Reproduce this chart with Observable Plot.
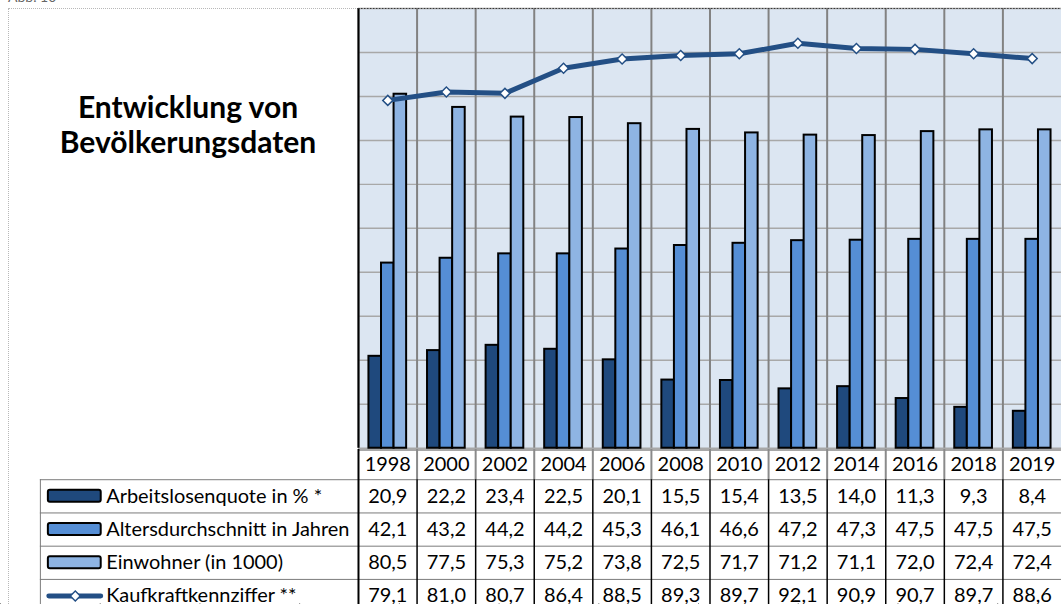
<!DOCTYPE html>
<html>
<head>
<meta charset="utf-8">
<script src="https://cdn.jsdelivr.net/npm/d3@7"></script>
<script src="https://cdn.jsdelivr.net/npm/@observablehq/plot@0.6"></script>
<style>
  html, body { margin: 0; padding: 0; background: #fff; overflow: hidden; }
  #wrap { position: relative; width: 1061px; height: 604px; overflow: hidden; font-family: Lato, "Noto Sans", sans-serif; }
  #outer { position: absolute; left: 8px; top: 8px; width: 1100px; height: 700px; border-left: 1.5px dotted #b8b8b8; border-top: 1.5px dotted #b8b8b8; box-sizing: border-box; }
  #abb { position: absolute; left: 8px; top: -12px; font-size: 14px; color: #666; }
  #title { position: absolute; left: 40px; width: 296px; top: 89px; text-align: center; font-weight: bold; font-size: 30px; line-height: 35px; color: #000; }
  #chart { position: absolute; left: 0; top: 0; }
  #table { position: absolute; left: 0; top: 449px; }
  svg { font-family: Lato, "Noto Sans", sans-serif; }
</style>
</head>
<body>
<div id="wrap">
  <div id="abb">Abb. 10</div>
  <div id="outer"></div>
  <div id="title">Entwicklung von<br>Bevölkerungsdaten</div>
  <div id="chart"></div>
  <div id="table"></div>
</div>
<script>
// ---- data ----
const years = ["1998","2000","2002","2004","2006","2008","2010","2012","2014","2016","2018","2019"];
const arbeitslosenquote = [20.9, 22.2, 23.4, 22.5, 20.1, 15.5, 15.4, 13.5, 14.0, 11.3, 9.3, 8.4];
const altersdurchschnitt = [42.1, 43.2, 44.2, 44.2, 45.3, 46.1, 46.6, 47.2, 47.3, 47.5, 47.5, 47.5];
const einwohner = [80.5, 77.5, 75.3, 75.2, 73.8, 72.5, 71.7, 71.2, 71.1, 72.0, 72.4, 72.4];
const kaufkraft = [79.1, 81.0, 80.7, 86.4, 88.5, 89.3, 89.7, 92.1, 90.9, 90.7, 89.7, 88.6];
const seriesLabels = ["Arbeitslosenquote in % *", "Altersdurchschnitt in Jahren", "Einwohner (in 1000)", "Kaufkraftkennziffer **"];
const gridValues = [0, 10, 20, 30, 40, 50, 60, 70, 80, 90, 100];

// ---- styles ----
const barColors = ["#1f497d", "#558ed5", "#8eb4e3"];
const lineColor = "#234f85";
const bg = "#dce6f2";

const barSeries = [arbeitslosenquote, altersdurchschnitt, einwohner];
const barData = barSeries.map(vals => years.map((y, i) => ({year: y, value: vals[i]})));
const lineData = years.map((y, i) => ({year: y, value: kaufkraft[i]}));

const W = 1064;
const bandW = (W - 359) / years.length;
const barW = 12.6;
const inset = bandW / 2 - barW / 2;

const chart = Plot.plot({
  width: W, height: 450,
  marginLeft: 359, marginRight: 0, marginTop: 8, marginBottom: 1,
  x: {type: "band", domain: years, padding: 0, round: false, axis: null},
  y: {domain: [0, 100], axis: null},
  style: {background: "transparent", overflow: "visible"},
  marks: [
    Plot.frame({fill: bg, stroke: null}),
    Plot.ruleY(gridValues, {stroke: "#a8a8a8", strokeWidth: 1.5}),
    Plot.ruleX(years, {x: d => d, dx: -bandW / 2, stroke: "#828282", strokeWidth: 2}),
    ...barData.map((d, k) => Plot.barY(d, {
      x: "year", y: "value",
      fill: barColors[k], stroke: "#000", strokeWidth: 2,
      insetLeft: inset, insetRight: inset, dx: (k - 1) * barW
    })),
    Plot.line(lineData, {x: "year", y: "value", stroke: lineColor, strokeWidth: 5, strokeLinejoin: "round"}),
    Plot.dot(lineData, {x: "year", y: "value", symbol: "square", rotate: 45, r: 4, fill: "#fff", stroke: lineColor, strokeWidth: 1.5}),
    Plot.ruleX([0], {x: d => years[0], dx: -bandW / 2, stroke: "#000", strokeWidth: 2}),
    Plot.ruleY([100], {stroke: "#333", strokeWidth: 1, strokeDasharray: "1.5,1.5"})
  ]
});
document.getElementById("chart").append(chart);

// ---- table (uses the chart's x scale for column positions) ----
const xs = chart.scale("x");
const colStart = y => xs.apply(y);
const bw = xs.bandwidth;
const headerH = 30.3;
const rowH = 33.33;
const rowCenter = i => headerH + rowH * i + rowH / 2;
const fmt = v => v.toFixed(1).replace(".", ",");
const allSeries = [arbeitslosenquote, altersdurchschnitt, einwohner, kaufkraft];

const cellText = allSeries.flatMap((vals, i) => years.map((y, j) => ({x: colStart(y) + bw / 2, y: rowCenter(i), t: fmt(vals[j])})));
const headerText = years.map(y => ({x: colStart(y) + bw / 2, y: headerH / 2 + 0.5, t: y}));
const labelText = seriesLabels.map((t, i) => ({x: 106, y: rowCenter(i), t}));
const hLines = [0, 1, 2, 3].map(i => headerH + rowH * i);
const colEdges = years.slice(1).map(colStart);
const swatches = [0, 1, 2].map(i => ({x1: 48, x2: 101, y1: rowCenter(i) - 6, y2: rowCenter(i) + 6, fill: barColors[i]}));

const table = Plot.plot({
  width: W, height: 155, margin: 0,
  x: {type: "identity"}, y: {type: "identity"},
  style: {background: "transparent", overflow: "visible"},
  marks: [
    Plot.ruleY([0.5], {x1: 359, x2: W, stroke: "#8a8a8a", strokeWidth: 1.5}),
    Plot.ruleY(hLines, {x1: 40, x2: W, stroke: "#7a7a7a", strokeWidth: 1}),
    Plot.ruleX([40], {y1: headerH, y2: 160, stroke: "#7a7a7a", strokeWidth: 1}),
    Plot.ruleX(colEdges, {y1: 0, y2: headerH, stroke: "#8a8a8a", strokeWidth: 2}),
    Plot.ruleX(colEdges, {y1: headerH, y2: 160, stroke: "#000", strokeWidth: 1.5}),
    Plot.ruleX([359], {y1: 0, y2: 160, stroke: "#000", strokeWidth: 2}),
    Plot.rect(swatches, {x1: "x1", x2: "x2", y1: "y1", y2: "y2", fill: "fill", stroke: "#000", strokeWidth: 2, rx: 2}),
    Plot.ruleY([rowCenter(3)], {x1: 49, x2: 101, stroke: lineColor, strokeWidth: 5, strokeLinecap: "round"}),
    Plot.dot([{x: 75, y: rowCenter(3)}], {x: "x", y: "y", symbol: "square", rotate: 45, r: 4, fill: "#fff", stroke: lineColor, strokeWidth: 1.5}),
    Plot.text(labelText, {x: "x", y: "y", text: "t", textAnchor: "start", fontSize: 20, fill: "#000"}),
    Plot.text(headerText, {x: "x", y: "y", text: "t", fontSize: 20, fill: "#000"}),
    Plot.text(cellText, {x: "x", y: "y", text: "t", fontSize: 20, fill: "#000"})
  ]
});
document.getElementById("table").append(table);
</script>
</body>
</html>
